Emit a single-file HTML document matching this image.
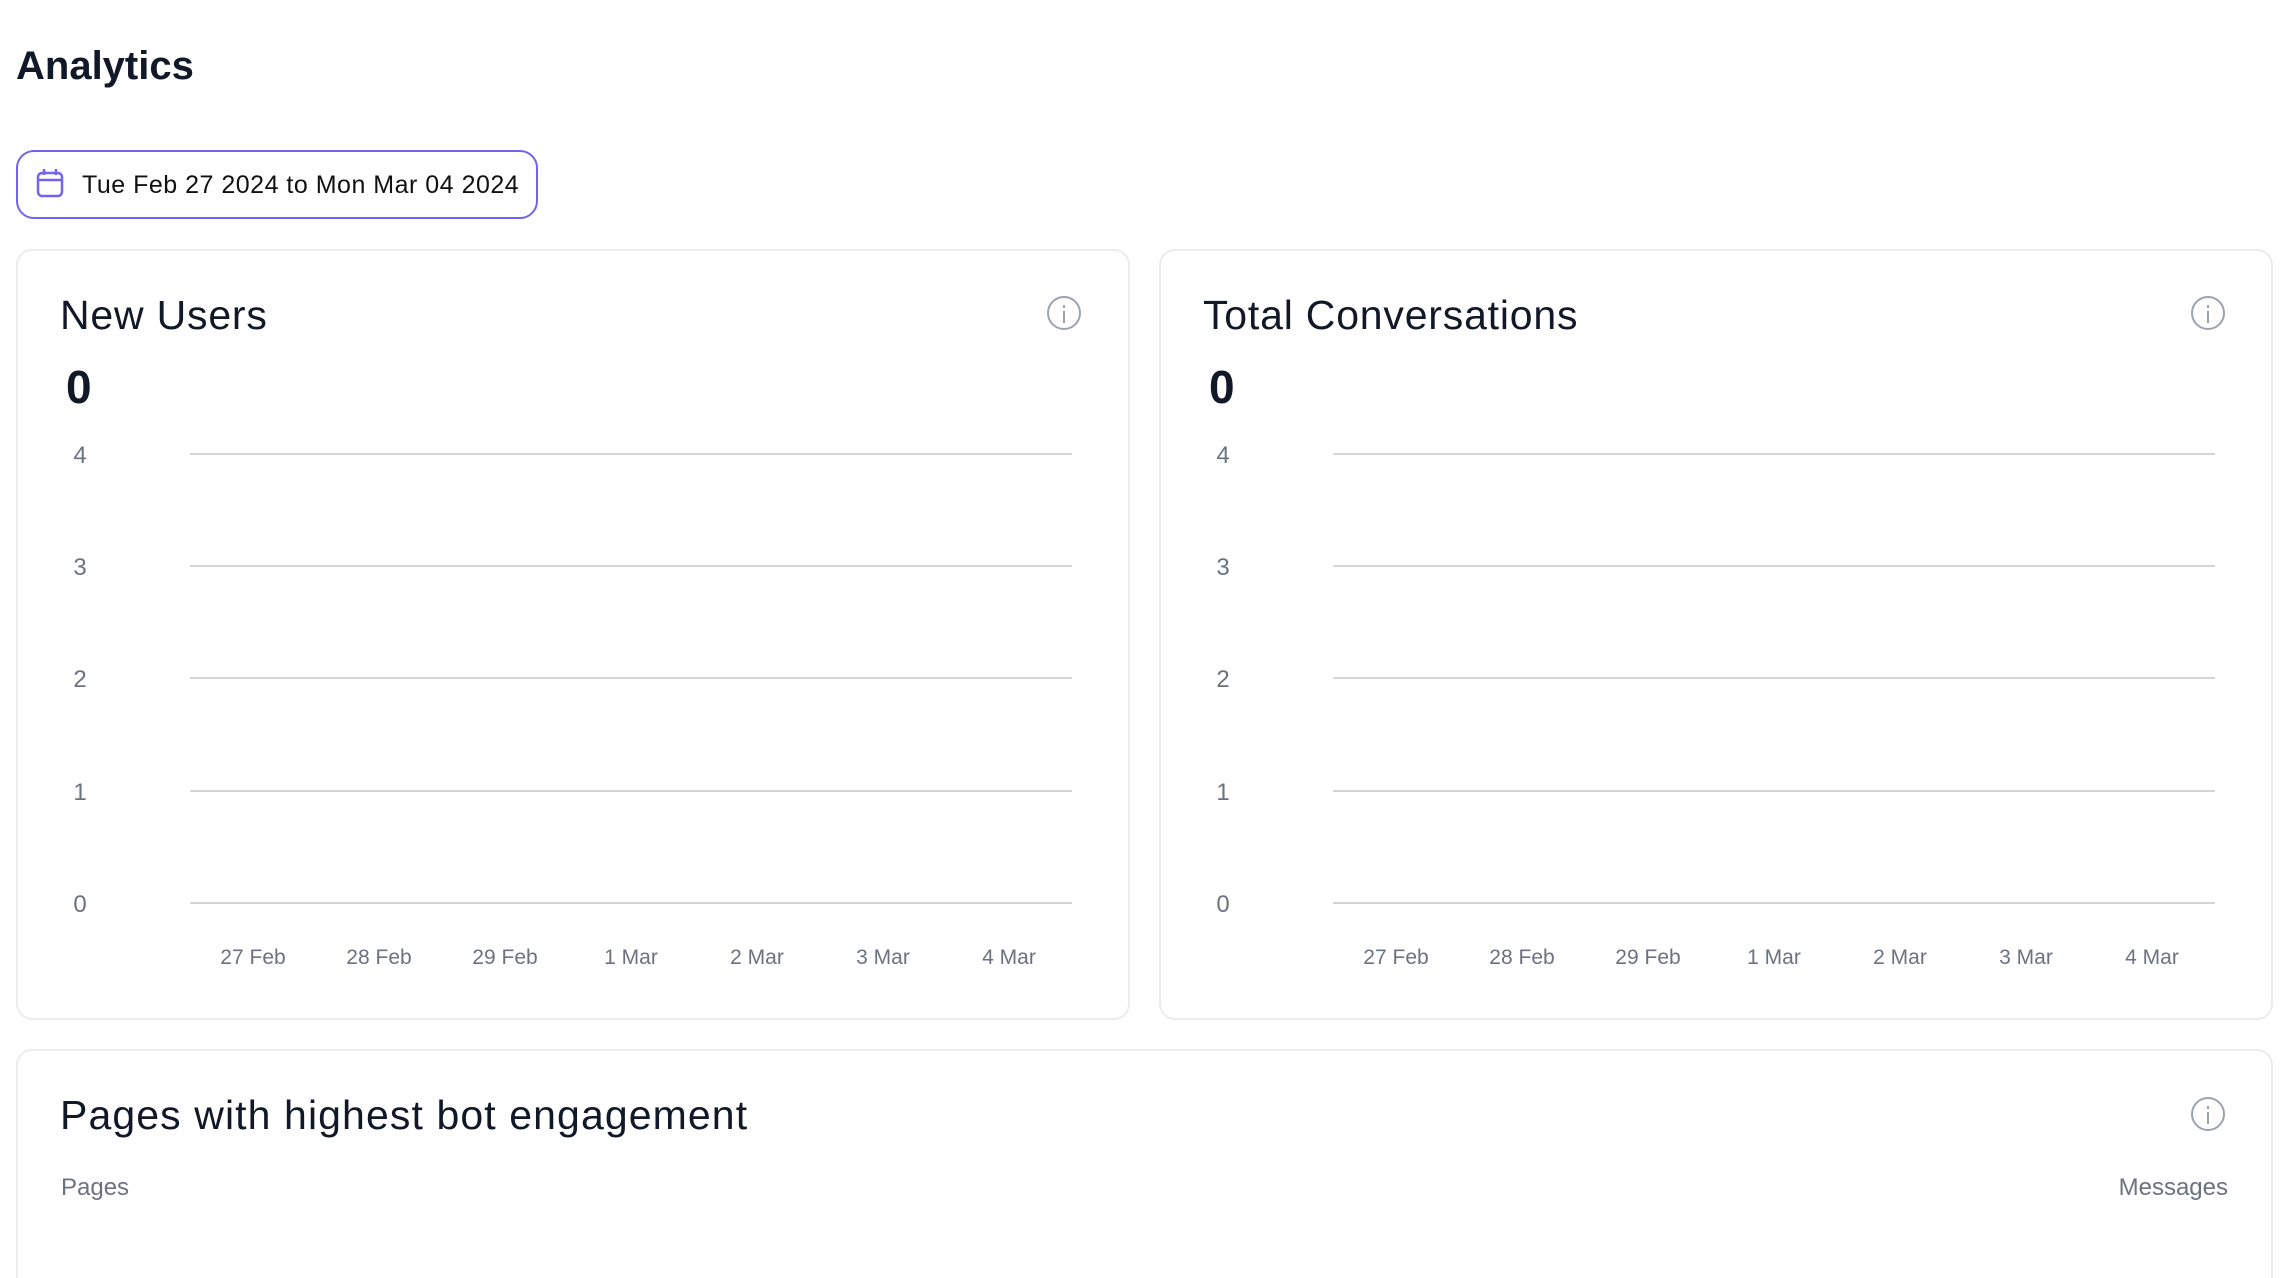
<!DOCTYPE html>
<html style="height:1278px;overflow:hidden"><head><meta charset="utf-8"><style>
*{margin:0;padding:0;box-sizing:border-box}
body{width:2296px;height:1278px;background:#fff;font-family:"Liberation Sans",sans-serif;position:relative;overflow:hidden;color:#111827}
.a{position:absolute;white-space:nowrap}
.card{position:absolute;border:2px solid #ececef;border-radius:16px;background:#fff}
.grid{position:absolute;height:2px;background:#d4d4d4}
.yl{position:absolute;font-size:24px;color:#6b7280;transform:translate(-50%,-50%)}
.xl{position:absolute;font-size:21px;color:#6b7280;transform:translate(-50%,-50%);white-space:nowrap}
.info{position:absolute;width:34px;height:34px;border:2px solid #9ca3af;border-radius:50%}
.info:before{content:"";position:absolute;left:14px;top:7px;width:2px;height:3px;background:#9ca3af}
.info:after{content:"";position:absolute;left:14px;top:13px;width:2px;height:12px;background:#9ca3af}
.t{font-size:41px;letter-spacing:0.8px}
</style></head><body>
<div class="a" style="left:16px;top:44px;font-size:40px;font-weight:bold;color:#111827">Analytics</div>
<div class="a" style="left:16px;top:150px;width:522px;height:69px;border:2.5px solid #7065f0;border-radius:18px"></div>
<svg class="a" style="left:35px;top:167px" width="30" height="32" viewBox="0 0 30 32"><rect x="3" y="6" width="24" height="23" rx="4" fill="none" stroke="#7065f0" stroke-width="2.5"/><line x1="3" y1="13" x2="27" y2="13" stroke="#7065f0" stroke-width="2.5"/><line x1="9" y1="2" x2="9" y2="8" stroke="#7065f0" stroke-width="2.5"/><line x1="21" y1="2" x2="21" y2="8" stroke="#7065f0" stroke-width="2.5"/></svg>
<div class="a" style="left:82px;top:171px;font-size:25px;letter-spacing:0.5px;color:#111">Tue Feb 27 2024 to Mon Mar 04 2024</div>

<div class="card" style="left:16px;top:249px;width:1114px;height:771px"></div>
<div class="card" style="left:1159px;top:249px;width:1114px;height:771px"></div>
<div class="card" style="left:16px;top:1049px;width:2257px;height:229px;border-bottom:none;border-radius:16px 16px 0 0"></div>

<div class="a t" style="left:60px;top:292px">New Users</div>
<div class="a t" style="left:1203px;top:292px">Total Conversations</div>
<div class="a" style="left:66px;top:360px;font-size:46px;font-weight:bold">0</div>
<div class="a" style="left:1209px;top:360px;font-size:46px;font-weight:bold">0</div>
<div class="info" style="left:1047px;top:296px"></div>
<div class="info" style="left:2191px;top:296px"></div>

<div id="c1"></div>

<div class="a t" style="left:60px;top:1092px;letter-spacing:1.1px">Pages with highest bot engagement</div>
<div class="info" style="left:2191px;top:1097px"></div>
<div class="a" style="left:61px;top:1174px;font-size:24px;color:#6b7280">Pages</div>
<div class="a" style="right:68px;top:1174px;font-size:24px;color:#6b7280">Messages</div>

<script>
var h='';
[0,1143].forEach(function(o){
 var ys=[454,566,678,791,903];
 ys.forEach(function(y,i){
  h+='<div class="grid" style="left:'+(190+o)+'px;top:'+(y-1)+'px;width:882px"></div>';
  h+='<div class="yl" style="left:'+(80+o)+'px;top:'+(y+2)+'px">'+(4-i)+'</div>';
 });
 var xs=[253,379,505,631,757,883,1009],lb=['27 Feb','28 Feb','29 Feb','1 Mar','2 Mar','3 Mar','4 Mar'];
 xs.forEach(function(x,i){h+='<div class="xl" style="left:'+(x+o)+'px;top:958px">'+lb[i]+'</div>';});
});
document.getElementById('c1').innerHTML=h;
</script>
</body></html>
